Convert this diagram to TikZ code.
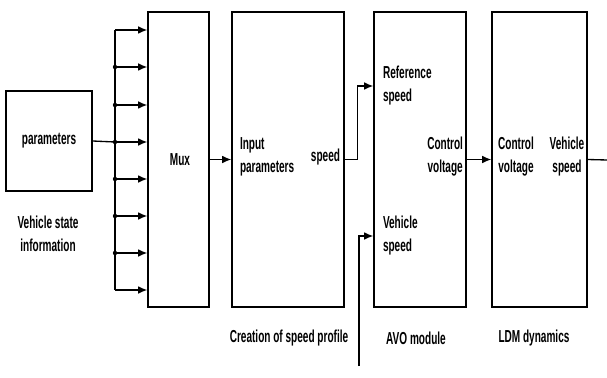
\documentclass[tikz,border=0pt]{standalone}
\usepackage{fontspec}
\setmainfont{Liberation Sans}[FakeStretch=0.58]
\usetikzlibrary{arrows.meta,positioning}

\begin{document}
\begin{tikzpicture}[
  x=0.75pt, y=-0.75pt,
  font=\fontsize{13}{17.25}\selectfont\bfseries,
  >={Latex[length=2.4mm,width=2mm]},
  line width=1pt,
  blk/.style={draw,inner sep=0pt,minimum width=#1,minimum height=221.25pt},
  pbox/.style={draw,inner sep=0pt,minimum width=64.5pt,minimum height=75pt},
  flow/.style={->},
  lbl/.style={align=center,inner sep=1pt},
  lbll/.style={align=left,inner sep=1pt},
]
\useasboundingbox (0,0) rectangle (607,378);

% --- blocks ---
\node[pbox]     (par)  at (49,141)    {parameters};
\node[blk=45.75pt] (mux)  at (178.5,159.5) {};
\node[blk=84pt]    (prof) at (288,159.5)   {};
\node[blk=69pt]    (avo)  at (420,159.5)   {};
\node[blk=71.25pt] (ldm)  at (539.5,159.5) {};

% --- texts inside the blocks ---
\node[lbl] (muxt) at (180,160) {Mux};
\node[lbll,anchor=west] (inp) at (238,157) {Input\\parameters};
\node[lbl,anchor=east]  (spd) at (342,157) {speed};
\node[lbll,anchor=west] (ref) at (381,86)  {Reference\\speed};
\node[lbll,anchor=west] (vsp) at (381,236) {Vehicle\\speed};
\node[lbl,anchor=east]  (cv)  at (465,157) {Control\\voltage};
\node[lbl] (cvin) at (516,157) {Control\\voltage};
\node[lbl] (vout) at (567,157) {Vehicle\\speed};

% --- captions ---
\node[lbl] (vsi)  at (48,234)  {Vehicle state\\information};
\node[lbl] (cap1) at (289,338) {Creation of speed profile};
\node[lbl] (cap2) at (416,338) {AVO module};
\node[lbl] (cap3) at (534,338) {LDM dynamics};

% --- bus from parameters into mux ---
\foreach \y [count=\i] in {30,67,105,142,179,216,253,290}
  \coordinate (b\i) at (115,\y);
\draw (par.east) -- (b4);
\draw (b1) -- (b8);
\foreach \i in {1,...,8}
  \draw[flow] (b\i) -- (b\i -| mux.west);
\foreach \i in {2,...,7}
  \fill (b\i) circle (2.2);

% --- signal chain ---
\draw[flow] (mux.east) -- (prof.west);
\draw[flow] (prof.east) -- ++(13,0) |- (avo.west |- ref);
\coordinate (vin) at (359,366);
\draw[flow] (vin) |- (avo.west |- vsp);
\draw[flow] (avo.east) -- (ldm.west);
\coordinate (out) at (607,160);
\draw (ldm.east) -- (out);

\end{tikzpicture}
\end{document}
